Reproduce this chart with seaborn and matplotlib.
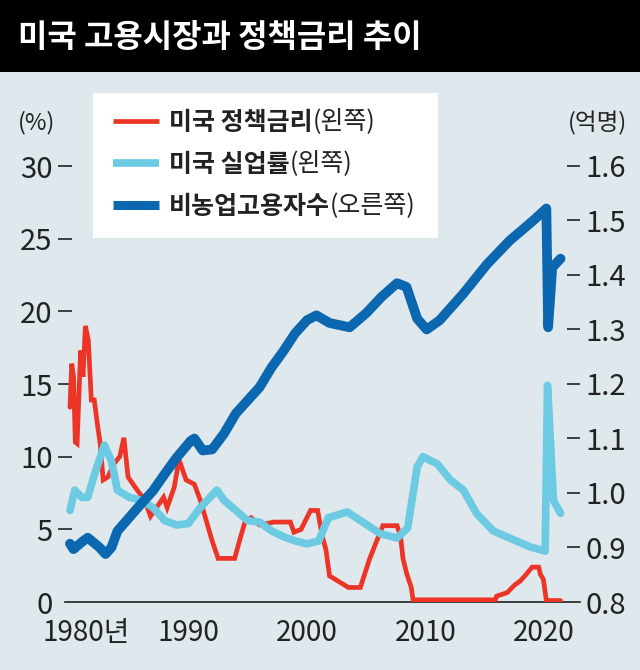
import matplotlib
matplotlib.use("Agg")
import matplotlib.pyplot as plt
from matplotlib.patches import Rectangle
from matplotlib.transforms import ScaledTranslation
import seaborn as sns
import pandas as pd

sns.set_theme(style="white")
NUM_FONT = ["Liberation Sans Narrow", "Noto Sans CJK KR", "DejaVu Sans"]
KR_FONT = ["Noto Sans CJK KR", "DejaVu Sans"]
plt.rcParams["font.family"] = NUM_FONT

BG = "#dfe8ec"
RED = "#ec3527"
SKY = "#6ccbe2"
NAVY = "#0a67b0"
INK = "#222222"

# ─── data ────────────────────────────────────────────────────────────────────
rate_year = [1980.0, 1980.15, 1980.3, 1980.45, 1980.6, 1980.9, 1981.1, 1981.3, 1981.55,
             1981.8, 1982.05, 1982.3, 1982.55, 1982.8, 1983.2, 1983.7, 1984.2, 1984.55,
             1984.9, 1985.5, 1986.3, 1986.8, 1987.3, 1987.9, 1988.2, 1988.8, 1989.2,
             1989.8, 1990.5, 1991.0, 1991.5, 1992.0, 1992.5, 1993.9, 1994.3, 1994.8,
             1995.3, 1996.0, 1997.2, 1998.6, 1998.9, 1999.5, 2000.3, 2000.9, 2001.3,
             2001.6, 2001.9, 2002.9, 2003.5, 2004.5, 2005.3, 2006.4, 2007.6, 2007.9,
             2008.1, 2008.4, 2008.8, 2008.95, 2015.9, 2016.0, 2016.9, 2017.5, 2018.0,
             2018.5, 2019.0, 2019.55, 2019.7, 2019.95, 2020.2, 2021.4]
rate_val = [13.4, 16.4, 15.5, 11.0, 10.9, 17.3, 15.5, 19.0, 18.0,
            13.9, 13.9, 12.3, 10.9, 8.4, 8.6, 9.5, 10.0, 11.3,
            8.6, 7.9, 7.0, 5.9, 6.5, 7.2, 6.5, 7.9, 9.8,
            8.4, 8.1, 7.0, 5.6, 4.2, 3.0, 3.0, 4.2, 5.6,
            5.8, 5.3, 5.5, 5.5, 4.8, 5.0, 6.3, 6.3, 4.5,
            3.6, 1.8, 1.3, 1.0, 1.0, 3.0, 5.25, 5.25, 4.5,
            3.0, 2.0, 1.0, 0.15, 0.15, 0.4, 0.65, 1.15, 1.45,
            1.9, 2.4, 2.4, 1.9, 1.55, 0.1, 0.1]

unemp_year = [1980.0, 1980.4, 1981.0, 1981.5, 1982.0, 1982.9, 1983.5, 1984.0, 1985.0,
              1986.0, 1987.0, 1988.0, 1989.0, 1990.0, 1991.0, 1992.4, 1993.0, 1994.0,
              1995.0, 1996.0, 1997.0, 1998.0, 1999.0, 2000.0, 2001.0, 2001.8, 2003.4,
              2004.7, 2006.2, 2007.6, 2008.5, 2009.3, 2009.8, 2011.0, 2012.1, 2013.2,
              2014.3, 2015.7, 2017.1, 2018.8, 2020.1, 2020.3, 2020.8, 2021.4]
unemp_val = [6.3, 7.7, 7.2, 7.2, 8.6, 10.8, 9.7, 7.7, 7.2,
             7.0, 6.5, 5.6, 5.3, 5.4, 6.5, 7.7, 7.0, 6.3,
             5.6, 5.5, 4.9, 4.5, 4.2, 4.0, 4.2, 5.8, 6.2,
             5.5, 4.7, 4.4, 5.1, 9.3, 10.0, 9.5, 8.4, 7.7,
             6.1, 4.9, 4.4, 3.8, 3.5, 14.9, 7.0, 6.1]

payroll_year = [1980.0, 1980.3, 1981.0, 1981.5, 1982.5, 1983.0, 1983.5, 1984.0, 1985.0,
                1986.0, 1987.0, 1988.0, 1989.0, 1990.2, 1990.5, 1991.2, 1992.0, 1993.0,
                1994.0, 1995.0, 1996.0, 1997.0, 1998.0, 1999.0, 2000.0, 2000.8, 2001.9,
                2003.6, 2005.0, 2006.3, 2007.6, 2008.4, 2009.3, 2010.1, 2011.2, 2013.2,
                2015.2, 2017.1, 2019.1, 2020.2, 2020.35, 2020.7, 2021.4]
payroll_val = [0.907, 0.897, 0.91, 0.918, 0.90, 0.888, 0.90, 0.93, 0.955,
               0.98, 1.004, 1.035, 1.065, 1.096, 1.10, 1.078, 1.08, 1.109,
               1.146, 1.17, 1.194, 1.23, 1.26, 1.293, 1.317, 1.326, 1.312,
               1.304, 1.33, 1.36, 1.385, 1.378, 1.32, 1.30, 1.317, 1.366,
               1.42, 1.463, 1.50, 1.522, 1.304, 1.414, 1.43]

x_ticks = [1980, 1990, 2000, 2010, 2020]
x_labels = ["1980년", "1990", "2000", "2010", "2020"]
left_ticks = [0, 5, 10, 15, 20, 25, 30]
right_ticks = [0.8, 0.9, 1.0, 1.1, 1.2, 1.3, 1.4, 1.5, 1.6]

series_names = ["미국 정책금리", "미국 실업률", "비농업고용자수"]
series_sides = ["(왼쪽)", "(왼쪽)", "(오른쪽)"]

rate = pd.DataFrame({"year": rate_year, "value": rate_val})
unemp = pd.DataFrame({"year": unemp_year, "value": unemp_val})
payroll = pd.DataFrame({"year": payroll_year, "value": payroll_val})

# ─── figure ─────────────────────────────────────────────────────────────────
fig = plt.figure(figsize=(6.4, 6.7), dpi=100, facecolor=BG)
ax = fig.add_axes([65 / 640, 68 / 670, 515 / 640, 436 / 670])
ax.set_facecolor("none")
ax2 = ax.twinx()

# title bar
fig.patches.append(Rectangle((0, 1 - 72 / 670), 1, 72 / 670, transform=fig.transFigure,
                             facecolor="black", edgecolor="none", zorder=0))
fig.text(18 / 640, 1 - 38 / 670, "미국 고용시장과 정책금리 추이", color="white",
         fontsize=23, fontweight="bold", family=KR_FONT, va="center", ha="left")

line_kw = dict(estimator=None, sort=False, legend=False)
sns.lineplot(data=rate, x="year", y="value", ax=ax, color=RED, lw=3.4,
             solid_joinstyle="miter", zorder=3, **line_kw)
sns.lineplot(data=unemp, x="year", y="value", ax=ax, color=SKY, lw=5.5,
             solid_capstyle="round", solid_joinstyle="round", zorder=4, **line_kw)
sns.lineplot(data=payroll, x="year", y="value", ax=ax2, color=NAVY, lw=7,
             solid_capstyle="round", solid_joinstyle="round", zorder=5, **line_kw)

ax.set_xlim(1979.58, 2023.04)
ax.set_ylim(0, 30)
ax2.set_ylim(0.8, 1.6)
ax.set_xlabel("")
ax.set_ylabel("")
ax2.set_ylabel("")

for sp in ["top", "left", "right"]:
    ax.spines[sp].set_visible(False)
for sp in ax2.spines.values():
    sp.set_visible(False)
ax.spines["bottom"].set_color(INK)
ax.spines["bottom"].set_linewidth(1.2)

ax.set_xticks(x_ticks, x_labels)
ax.set_yticks(left_ticks, [str(v) for v in left_ticks])
ax2.set_yticks(right_ticks, [f"{v:.1f}" for v in right_ticks])

ax.tick_params(axis="x", direction="in", length=10, width=1.2, color=INK, pad=11.5,
               labelsize=20, labelcolor=INK)
ax.tick_params(axis="y", direction="inout", length=10, width=1.2, color=INK, pad=4,
               labelsize=21, labelcolor=INK, left=True)
ax2.tick_params(axis="y", direction="in", length=9.5, width=1.2, color=INK, pad=4,
                labelsize=21, labelcolor=INK, right=True)
ax.yaxis.get_major_ticks()[0].tick1line.set_visible(False)
ax2.yaxis.get_major_ticks()[0].tick2line.set_visible(False)

# "1980년": the number itself sits centred on the tick
lab = ax.get_xticklabels()[0]
lab.set_transform(lab.get_transform() + ScaledTranslation(16 / 100, 0, fig.dpi_scale_trans))

fig.text(37 / 640, 1 - 123 / 670, "(%)", fontsize=17, color=INK, ha="center", va="center")
fig.text(597 / 640, 1 - 123 / 670, "(억명)", fontsize=17, color=INK, ha="center",
         va="center", family=KR_FONT)

# legend panel
fig.patches.append(Rectangle((93 / 640, 1 - 238 / 670), 345 / 640, 145 / 670,
                             transform=fig.transFigure, facecolor="white",
                             edgecolor="none", zorder=1))
handles = [plt.Line2D([], [], color=RED, lw=3.4, solid_capstyle="butt"),
           plt.Line2D([], [], color=SKY, lw=5.5, solid_capstyle="butt"),
           plt.Line2D([], [], color=NAVY, lw=6.5, solid_capstyle="butt")]
leg = fig.legend(handles, series_names, loc="upper left",
                 bbox_to_anchor=(113 / 640, 1 - 111 / 670), bbox_transform=fig.transFigure,
                 frameon=False, borderpad=0, borderaxespad=0, handlelength=1.85,
                 handletextpad=0.4, labelspacing=0.72,
                 prop=dict(family=KR_FONT, weight="bold", size=18))
leg.set_zorder(6)
for txt in leg.get_texts():
    txt.set_color(INK)

# lighter "(왼쪽)"/"(오른쪽)" right after each bold label
fig.canvas.draw()
renderer = fig.canvas.get_renderer()
W, H = fig.bbox.width, fig.bbox.height
for txt, side in zip(leg.get_texts(), series_sides):
    bb = txt.get_window_extent(renderer)
    fig.text(bb.x1 / W, bb.y0 / H, side, ha="left", va="bottom", fontsize=18,
             family=KR_FONT, color=INK, zorder=7)

fig.savefig("out.png", dpi=100, facecolor=BG)
